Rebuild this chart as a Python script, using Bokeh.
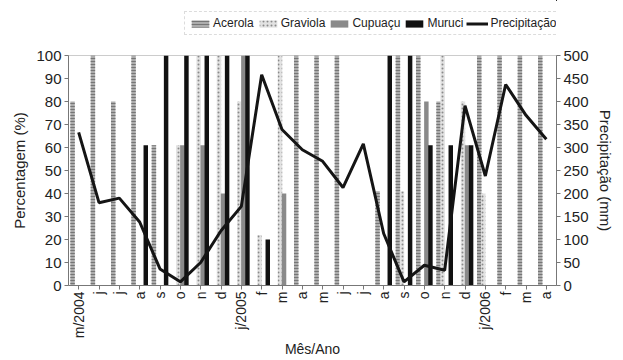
from bokeh.plotting import figure
from bokeh.layouts import column
from bokeh.models import Range1d, LinearAxis, FixedTicker, SingleIntervalTicker, Legend, LegendItem, ColumnDataSource
from bokeh.transform import dodge
from bokeh.embed import file_html
from bokeh.resources import INLINE

months = ["m/2004", "j", "j", "a", "s", "o", "n", "d", "j/2005", "f", "m", "a",
          "m", "j", "j", "a", "s", "o", "n", "d", "j/2006", "f", "m", "a"]
acerola = [80, 100, 80, 100, 61, 0, 0, 0, 0, 0, 0, 100, 100, 100, 0, 41, 100, 100, 80, 0, 100, 100, 100, 100]
graviola = [0, 0, 0, 0, 0, 61, 100, 100, 80, 22, 100, 0, 0, 0, 0, 0, 41, 0, 100, 80, 40, 0, 0, 0]
cupuacu = [0, 0, 0, 0, 0, 61, 61, 40, 100, 0, 40, 0, 0, 0, 0, 0, 0, 80, 0, 61, 0, 0, 0, 0]
muruci = [0, 0, 0, 61, 100, 100, 100, 100, 100, 20, 0, 0, 0, 0, 0, 100, 100, 61, 61, 61, 0, 0, 0, 0]
precip = [333, 180, 190, 138, 36, 8, 50, 119, 172, 458, 339, 295, 270, 213, 308, 113, 8, 44, 33, 391, 238, 437, 370, 318]

FONT = "Liberation Sans"
W = 623
LEG_H = 38

STY = {
    "acerola": dict(fill_color="#adadad", line_color=None, hatch_pattern="horizontal_line",
                    hatch_color="#767676", hatch_scale=3, hatch_weight=1),
    "graviola": dict(fill_color="#e2e2e2", line_color=None, hatch_pattern="dot",
                     hatch_color="#8a8a8a", hatch_scale=4, hatch_weight=1.5),
    "cupuacu": dict(fill_color="#8a8a8a", line_color=None),
    "muruci": dict(fill_color="#111111", line_color=None),
}
LINE_STY = dict(line_color="#151515", line_width=3)

pos = [i + 0.5 for i in range(len(months))]
src = ColumnDataSource(dict(x=pos, acerola=acerola, graviola=graviola, cupuacu=cupuacu,
                            muruci=muruci, precip=precip))

p = figure(width=W, height=360 - LEG_H, output_backend="svg", toolbar_location=None,
           x_range=Range1d(0, len(months)), y_range=Range1d(0, 100),
           min_border_left=68, min_border_right=W - 556, min_border_top=55 - LEG_H,
           min_border_bottom=66)
p.outline_line_color = "#cccccc"
p.xgrid.visible = False
p.ygrid.visible = False

bw = 0.22
p.vbar(x=dodge("x", -0.3), top="acerola", width=bw, source=src, **STY["acerola"])
p.vbar(x=dodge("x", -0.1), top="graviola", width=bw, source=src, **STY["graviola"])
p.vbar(x=dodge("x", 0.1), top="cupuacu", width=bw, source=src, **STY["cupuacu"])
p.vbar(x=dodge("x", 0.3), top="muruci", width=bw, source=src, **STY["muruci"])

p.extra_y_ranges = {"precip": Range1d(0, 500)}
p.line(x="x", y="precip", source=src, y_range_name="precip", **LINE_STY)

# axes
p.xaxis.ticker = FixedTicker(ticks=pos)
p.xaxis.major_label_overrides = {pos[i]: months[i] for i in range(len(months))}
p.xaxis.major_label_orientation = 1.5708
p.xaxis.axis_label = "Mês/Ano"
p.yaxis.axis_label = "Percentagem (%)"
p.yaxis.ticker = SingleIntervalTicker(interval=10)

right = LinearAxis(y_range_name="precip", ticker=SingleIntervalTicker(interval=50),
                   axis_label="Precipitação (mm)")
p.add_layout(right, "right")

for ax in [p.xaxis[0], p.yaxis[0], right]:
    ax.axis_line_color = "#777777"
    ax.major_tick_line_color = "#777777"
    ax.minor_tick_line_color = None
    ax.major_tick_out = 4
    ax.major_tick_in = 0
    ax.major_label_text_font = FONT
    ax.axis_label_text_font = FONT
    ax.major_label_text_font_size = "15px"
    ax.axis_label_text_font_size = "15px"
    ax.axis_label_text_font_style = "normal"
    ax.major_label_text_color = "#222222"
    ax.axis_label_text_color = "#222222"
    ax.major_label_standoff = 3
    ax.axis_label_standoff = 5

p.xaxis.major_label_text_font_size = "14px"
p.xaxis.major_label_standoff = 2
p.xaxis.axis_label_standoff = 0
p.xaxis.axis_label_text_font_size = "14px"

# legend strip above the chart (its renderers use the same data but lie outside its view)
lg = figure(width=W, height=LEG_H, output_backend="svg", toolbar_location=None,
            x_range=Range1d(-3, -2), y_range=Range1d(-3, -2), min_border=0)
lg.outline_line_color = None
lg.axis.visible = False
lg.grid.visible = False
la = lg.vbar(x="x", top="acerola", width=bw, source=src, **STY["acerola"])
lgv = lg.vbar(x="x", top="graviola", width=bw, source=src, **STY["graviola"])
lc = lg.vbar(x="x", top="cupuacu", width=bw, source=src, **STY["cupuacu"])
lm = lg.vbar(x="x", top="muruci", width=bw, source=src, **STY["muruci"])
lp = lg.line(x="x", y="precip", source=src, **LINE_STY)

legend = Legend(items=[
    LegendItem(label="Acerola", renderers=[la]),
    LegendItem(label="Graviola", renderers=[lgv]),
    LegendItem(label="Cupuaçu", renderers=[lc]),
    LegendItem(label="Muruci", renderers=[lm]),
    LegendItem(label="Precipitação", renderers=[lp]),
], orientation="horizontal", location=(116, 3))
legend.label_text_font = FONT
legend.label_text_font_size = "12px"
legend.label_text_color = "#222222"
legend.glyph_width = 22
legend.glyph_height = 9
legend.label_standoff = 2
legend.spacing = 3
legend.padding = 4
legend.margin = 0
legend.label_height = 13
legend.border_line_color = "#bbbbbb"
legend.border_line_dash = "2 2"
lg.add_layout(legend, "center")

layout = column(lg, p, spacing=0)
open("out.html", "w").write(file_html(layout, INLINE))
